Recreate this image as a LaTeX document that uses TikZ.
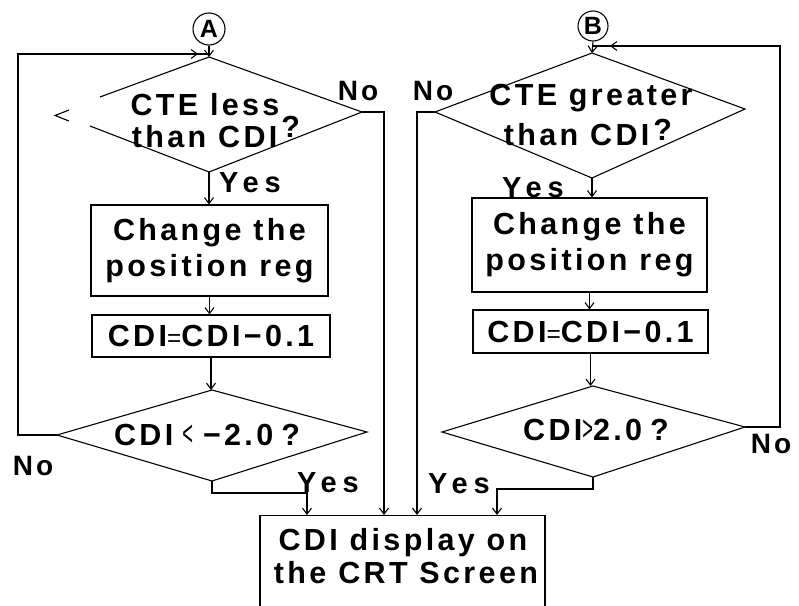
\documentclass[tikz,border=0pt]{standalone}
\usepackage{fontspec}
\usepackage{graphicx}
\setmainfont{Liberation Sans}[LetterSpace=11]
\newfontfamily\plainfont{Liberation Sans}
\newfontfamily\widefont{Liberation Sans}[LetterSpace=20]
\usetikzlibrary{arrows.meta,calc}
\newcommand{\thinlt}{{\mdseries\scalebox{0.6}[1.15]{<}}}
\newcommand{\thingt}{{\mdseries\scalebox{0.6}[1.15]{>}}}
\newcommand{\smalleq}{{\mdseries\scalebox{0.8}{=}}}
\begin{document}
\begin{tikzpicture}[x=1pt,y=-1pt, line width=1.1pt,
  >={Straight Barb[length=6pt,width=9pt]},
  txt/.style={font=\fontsize{30.5}{36}\selectfont\bfseries, inner sep=0pt, anchor=base},
  lbl/.style={font=\fontsize{28}{30}\selectfont\bfseries, inner sep=0pt, anchor=base},
  ylbl/.style={font=\widefont\fontsize{29}{30}\selectfont\bfseries, inner sep=0pt, anchor=base},
  box/.style={draw, inner sep=0pt, align=center, font=\fontsize{30.5}{36}\selectfont\bfseries},
  conn/.style={draw, circle, inner sep=0pt, font=\plainfont\fontsize{25}{25}\selectfont\bfseries}]
\useasboundingbox (0,0) rectangle (799,605);
\clip (0,0) rectangle (799,605);

% connectors A and B
\node[conn, minimum size=32pt] (cA) at (209,29) {A};
\node[conn, minimum size=30pt] (cB) at (593,26) {B};

% diamond corners
\coordinate (d1t) at (209,57);  \coordinate (d1r) at (362,112);
\coordinate (d1b) at (209,172); \coordinate (d1ga) at (100,97); \coordinate (d1gb) at (90,126);
\coordinate (d2t) at (592,53);  \coordinate (d2r) at (745,109);
\coordinate (d2b) at (592,178); \coordinate (d2l) at (435,112);
\coordinate (d3t) at (212,390); \coordinate (d3r) at (367,432);
\coordinate (d3b) at (212,481); \coordinate (d3l) at (57,435);
\coordinate (d4t) at (593,386); \coordinate (d4r) at (745,427);
\coordinate (d4b) at (593,477); \coordinate (d4l) at (442,432);

\draw (d1ga) -- (d1t) -- (d1r) -- (d1b) -- (d1gb);
\draw (69,110) -- (55,115.5) -- (69,121);
\draw (d2t) -- (d2r) -- (d2b) -- (d2l) -- cycle;
\draw (d3t) -- (d3r) -- (d3b) -- (d3l) -- cycle;
\draw (d4t) -- (d4r) -- (d4b) -- (d4l) -- cycle;

% boxes
\node[box, minimum width=237pt, minimum height=91pt] (b1) at (209.5,250.5) {Change the\\position reg};
\node[box, minimum width=238pt, minimum height=42pt] (b2) at (211,336) {CDI\smalleq CDI−0.1};
\node[box, minimum width=235pt, minimum height=94pt] (b3) at (589.5,245) {Change the\\position reg};
\node[box, minimum width=235pt, minimum height=43pt] (b4) at (590.5,331.5) {CDI\smalleq CDI−0.1};
\node[draw, inner sep=0pt, minimum width=285pt, minimum height=110pt, anchor=north] (b5) at (402.5,515) {};
\node[txt] (t5a) at (403,550) {CDI display on};
\node[txt] (t5b) at (406,583) {the CRT Screen};

% diamond texts
\node[txt] (t1a) at (205,115) {CTE less};
\node[txt] (t1b) at (216,147) {than CDI\hspace{4pt}\raisebox{10pt}{?}};
\node[txt] (t2a) at (591,105) {CTE greater};
\node[txt] (t2b) at (588,145) {than CDI\hspace{4pt}\raisebox{5pt}{?}};
\node[txt] (t3) at (207,445) {CDI\hspace{9pt}\thinlt\hspace{10pt}−2.0\hspace{8pt}?};
\node[txt] (t4) at (596,440) {CDI\thingt 2.0\hspace{8pt}?};

% labels
\node[lbl] (no1) at (358,100) {No};
\node[ylbl] (yes1) at (250,192) {Yes};
\node[lbl] (no2) at (433,100) {No};
\node[ylbl] (yes2) at (533,197) {Yes};
\node[lbl] (no3) at (33,475) {No};
\node[ylbl] (yes3) at (328,492) {Yes};
\node[lbl] (no4) at (771,453) {No};
\node[ylbl] (yes4) at (459,493) {Yes};

% left column connectors
\coordinate (jA) at (209,54);
\coordinate (aA) at (198,54);
\coordinate (lA1) at (18,435);
\coordinate (lA2) at (18,54);
\draw[->] (cA.south) -- (d1t);
\draw (d3l) -- (lA1) -- (lA2) -- (jA);
\draw[->] (lA2) -- (aA);
\draw[->] (d1b) -- (d1b |- b1.north);
\draw[->] (b1.south) -- (b1.south |- b2.north);
\draw[->] (b2.south) -- (b2.south |- d3t);
\coordinate (rA) at (384,112);
\draw[->] (d1r) -- (rA) -- (rA |- b5.north);
\coordinate (yA1) at (212,493);
\coordinate (yA2) at (307,493);
\draw[->] (d3b) -- (yA1) -- (yA2) -- (yA2 |- b5.north);

% right column connectors
\coordinate (jB) at (592,46);
\coordinate (aB) at (610,46);
\coordinate (lB1) at (780,427);
\coordinate (lB2) at (780,46);
\draw[->] (cB.south) -- (d2t);
\draw (d4r) -- (lB1) -- (lB2) -- (jB);
\draw[->] (lB2) -- (aB);
\draw[->] (d2b) -- (d2b |- b3.north);
\draw[->] (b3.south) -- (b3.south |- b4.north);
\draw[->] (b4.south) -- (b4.south |- d4t);
\coordinate (lC) at (417,112);
\draw[->] (d2l) -- (lC) -- (lC |- b5.north);
\coordinate (yB1) at (593,489);
\coordinate (yB2) at (497,489);
\draw[->] (d4b) -- (yB1) -- (yB2) -- (yB2 |- b5.north);
\end{tikzpicture}
\end{document}
